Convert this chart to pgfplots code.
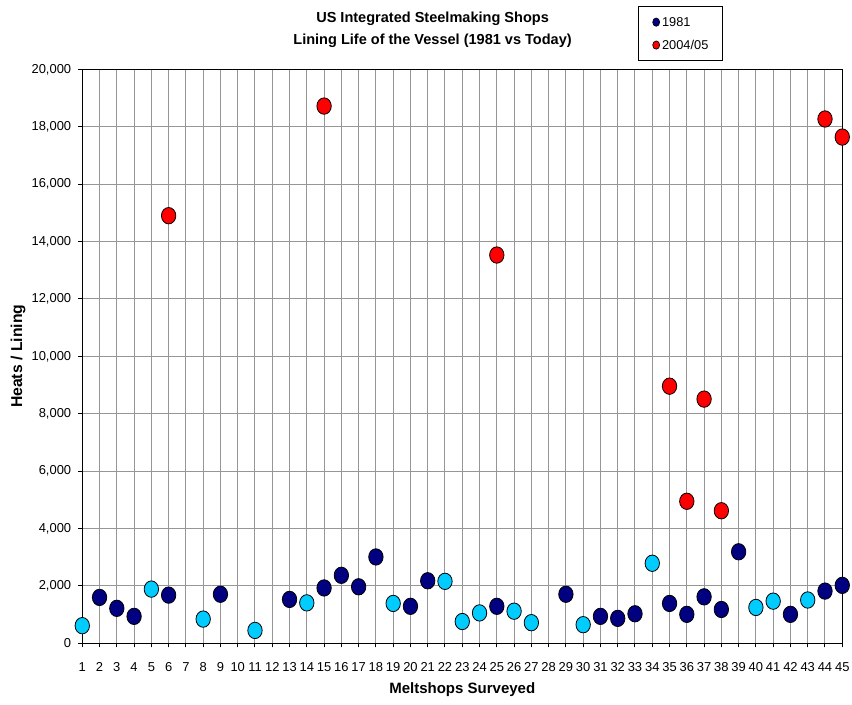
\documentclass[border=0pt]{standalone}
\usepackage{fontspec}
\setmainfont{Liberation Sans}
\usepackage{pgfplots}
\pgfplotsset{compat=1.18}
\definecolor{navyc}{RGB}{0,0,128}
\definecolor{cyanc}{RGB}{0,204,255}
\definecolor{redc}{RGB}{255,0,0}
\definecolor{gridc}{RGB}{150,150,150}
\begin{document}
\begin{tikzpicture}
\begin{axis}[
  set layers=standard,
  at={(0pt,0pt)}, anchor=south west,
  scale only axis, width=570pt, height=430.5pt,
  xmin=1, xmax=45, ymin=0, ymax=20000,
  xtick={1,...,45}, ytick={0,2000,...,20000},
  grid=major, major grid style={gridc, line width=0.75pt},
  axis line style={black, line width=0.75pt},
  tick style={black, line width=0.75pt},
  tick align=outside, major tick length=3pt,
  tick pos=left,
  clip=false,
  scaled y ticks=false,
  /pgf/number format/1000 sep={,},
  /pgf/number format/assume math mode=true,
  ticklabel style={font=\fontsize{9.7}{11}\selectfont},
  xticklabel style={yshift=-7.6pt},
  yticklabel style={xshift=-1.8pt},
  xlabel={Meltshops Surveyed}, ylabel={Heats / Lining},
  label style={font=\bfseries\fontsize{11.25}{13}\selectfont},
  xlabel style={at={(axis description cs:0.5,-0.0813)}, anchor=center},
  ylabel style={at={(axis description cs:-0.0846,0.5)}, anchor=center, font=\bfseries\fontsize{11.8}{13}\selectfont},
  title={US Integrated Steelmaking Shops\\Lining Life of the Vessel (1981 vs Today)},
  title style={at={(axis description cs:0.4609,1.0551)}, anchor=center, align=center, font=\bfseries\fontsize{10.9}{16.3}\selectfont},
  legend cell align=left,
  legend style={at={(axis description cs:0.7312,1.1103)}, anchor=north west,
    draw=black, line width=0.6pt, fill=white,
    inner xsep=10.5pt, inner ysep=8.3pt, row sep=10.2pt,
    nodes={inner sep=0pt, text height=7pt, text depth=0pt},
    /tikz/every odd column/.append style={column sep=1.6pt},
    font=\fontsize{9.6}{11}\selectfont},
]
\addplot[only marks, mark=*, mark size=5.4pt, on layer=axis foreground,
  mark options={draw=black, fill=navyc, line width=0.6pt, yscale=1.14},
  legend image code/.code={\draw[black, fill=navyc, line width=0.5pt] (0pt,0pt) ellipse (2.6pt and 3.1pt);}]
coordinates {(2,1600) (3,1220) (4,940) (6,1680) (9,1710) (13,1530) (15,1930) (16,2370) (17,1970) (18,3010) (20,1290) (21,2180) (25,1290) (29,1710) (31,940) (32,870) (33,1030) (35,1390) (36,1010) (37,1620) (38,1180) (39,3190) (42,1010) (44,1820) (45,2020)};
\addlegendentry{1981}
\addplot[only marks, mark=*, mark size=5.4pt, on layer=axis foreground,
  mark options={draw=black, fill=redc, line width=0.6pt, yscale=1.14},
  legend image code/.code={\draw[black, fill=redc, line width=0.5pt] (0pt,0pt) ellipse (2.6pt and 3.1pt);}]
coordinates {(6,14900) (15,18720) (25,13530) (35,8960) (36,4950) (37,8510) (38,4620) (44,18270) (45,17640)};
\addlegendentry{2004/05}
\addplot[only marks, mark=*, mark size=5.4pt, forget plot, on layer=axis foreground,
  mark options={draw=black, fill=cyanc, line width=0.6pt, yscale=1.14}]
coordinates {(1,615) (5,1890) (8,845) (11,450) (14,1410) (19,1390) (22,2160) (23,760) (24,1060) (26,1120) (27,720) (30,650) (34,2790) (40,1250) (41,1470) (43,1510)};
\end{axis}
\pgfresetboundingbox
\useasboundingbox (-61.7pt,-45.5pt) rectangle (577.3pt,482.5pt);
\end{tikzpicture}
\end{document}
